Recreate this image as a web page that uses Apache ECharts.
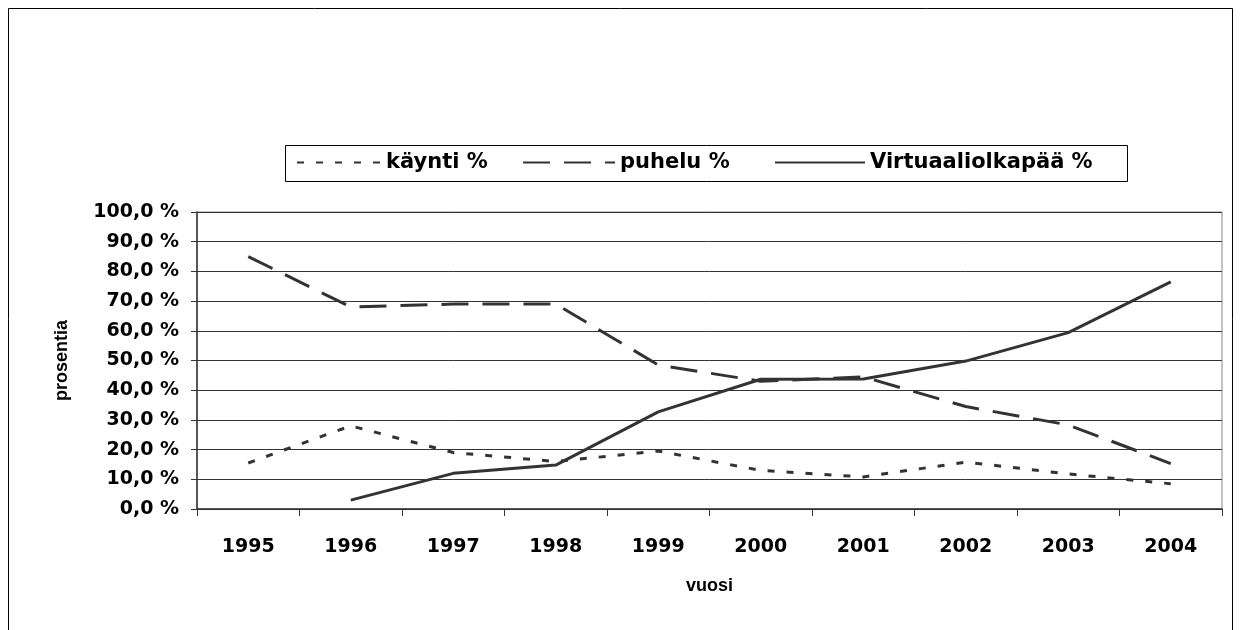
<!DOCTYPE html>
<html>
<head>
<meta charset="utf-8">
<script src="https://cdn.jsdelivr.net/npm/echarts@6/dist/echarts.min.js"></script>
<style>html,body{margin:0;padding:0;background:#fff}#c{width:1240px;height:630px}</style>
</head>
<body>
<div id="c"></div>
<script>
const years = ['1995','1996','1997','1998','1999','2000','2001','2002','2003','2004'];
const kaynti = [15.5, 28, 19, 16, 19.5, 13, 10.8, 15.8, 11.8, 8.5];
const puhelu = [85, 68, 69, 69, 48.5, 43, 44.5, 34.5, 28.3, 15.3];
const virtuaali = [null, 3, 12, 14.8, 32.7, 43.7, 43.8, 49.8, 59.4, 76.5];
const seriesNames = ['käynti %', 'puhelu %', 'Virtuaaliolkapää %'];

const wide = 'DejaVu Sans, sans-serif';
const font = 'Liberation Sans, Arial, sans-serif';
const chart = echarts.init(document.getElementById('c'));
const lineCol = '#333333';
const legendLeft = [296, 522, 774];
const legendIconW = [84, 92, 90];
function mkLegend(i) {
  return {
    data: [seriesNames[i]], left: legendLeft[i], top: 152, padding: 0,
    itemWidth: legendIconW[i], itemHeight: 14,
    itemStyle: {opacity: 0},
    textStyle: {fontFamily: wide, fontWeight: 'bold', fontSize: 21, color: '#000'}
  };
}
chart.setOption({
  animation: false,
  backgroundColor: '#fff',
  graphic: [{
    type: 'rect', shape: {x: 8.5, y: 8.5, width: 1224, height: 640},
    style: {fill: 'none', stroke: '#000', lineWidth: 1}, z: -10
  }, {
    type: 'rect', shape: {x: 285.5, y: 145.5, width: 842, height: 36},
    style: {fill: 'none', stroke: '#000', lineWidth: 1}, z: -10
  }],
  legend: [mkLegend(0), mkLegend(1), mkLegend(2)],
  grid: {left: 197, right: 18, top: 212, bottom: 121, show: true, borderColor: '#888', borderWidth: 1},
  xAxis: {
    type: 'category', data: years, boundaryGap: true,
    name: 'vuosi', nameLocation: 'middle', nameGap: 68,
    nameTextStyle: {fontFamily: font, fontWeight: 'bold', fontSize: 18, color: '#000'},
    axisLine: {lineStyle: {color: '#333', width: 1.5}},
    axisTick: {show: true, interval: 0, length: 7, lineStyle: {color: '#333'}},
    axisLabel: {fontFamily: wide, fontWeight: 'bold', fontSize: 19, color: '#000', margin: 29, interval: 0},
    splitLine: {show: false}
  },
  yAxis: {
    type: 'value', min: 0, max: 100, interval: 10,
    name: 'prosentia', nameLocation: 'middle', nameGap: 126, nameRotate: 90,
    nameTextStyle: {fontFamily: font, fontWeight: 'bold', fontSize: 18, color: '#000'},
    axisLine: {show: true, lineStyle: {color: '#333', width: 1.5}},
    axisTick: {show: true, length: 6, lineStyle: {color: '#333'}},
    axisLabel: {fontFamily: wide, fontWeight: 'bold', fontSize: 19, color: '#000', margin: 18,
      formatter: v => v.toFixed(1).replace('.', ',') + ' %'},
    splitLine: {show: true, lineStyle: {color: '#333', width: 1}}
  },
  series: [
    {name: seriesNames[0], type: 'line', data: kaynti, symbol: 'none', showSymbol: false,
     lineStyle: {color: lineCol, width: 3, type: [7, 12]}, itemStyle: {color: lineCol}},
    {name: seriesNames[1], type: 'line', data: puhelu, symbol: 'none', showSymbol: false,
     lineStyle: {color: lineCol, width: 3, type: [27, 14]}, itemStyle: {color: lineCol}},
    {name: seriesNames[2], type: 'line', data: virtuaali, symbol: 'none', showSymbol: false,
     lineStyle: {color: lineCol, width: 3, type: 'solid'}, itemStyle: {color: lineCol}}
  ]
});
</script>
</body>
</html>
